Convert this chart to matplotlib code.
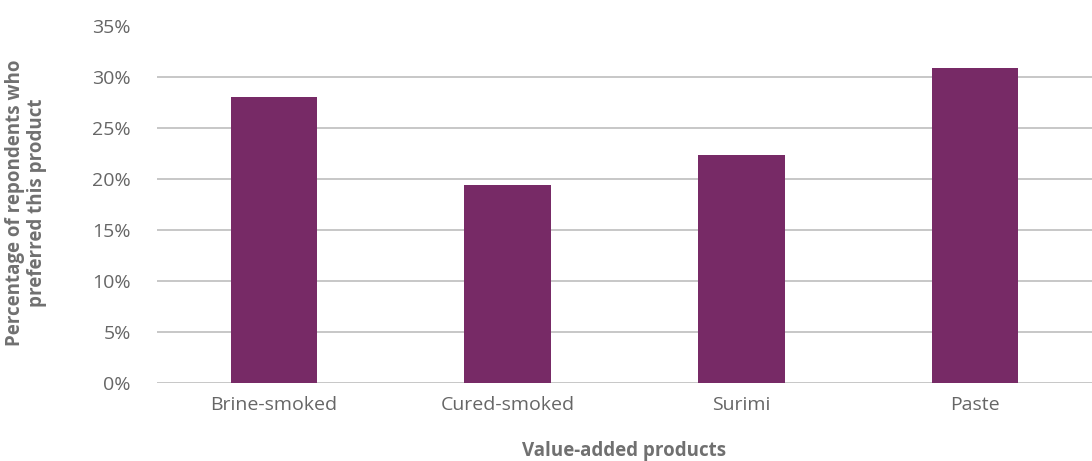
import matplotlib.pyplot as plt
from matplotlib.ticker import PercentFormatter

products = ["Brine-smoked", "Cured-smoked", "Surimi", "Paste"]
shares = [28.0, 19.4, 22.3, 30.9]
yticks = [0, 5, 10, 15, 20, 25, 30, 35]

plt.rcParams['font.family'] = ['Open Sans', 'DejaVu Sans']

fig = plt.figure(figsize=(10.92, 4.61), dpi=100)
ax = fig.add_axes([0.1438, 0.169, 0.8562, 0.775])

ax.bar(range(len(products)), shares, width=0.37, color='#772A66', zorder=3)

ax.set_xlim(-0.5, len(products) - 0.5)
ax.set_ylim(0, 35)
ax.set_yticks(yticks)
ax.yaxis.set_major_formatter(PercentFormatter(decimals=0))
ax.set_xticks(range(len(products)))
ax.set_xticklabels(products)

ax.grid(axis='y', color='#BDBDBD', linewidth=1.2, zorder=0)
ax.get_ygridlines()[-1].set_visible(False)
for s in ax.spines.values():
    s.set_visible(False)
ax.tick_params(axis='both', length=0, labelsize=14, colors='#666666')
ax.tick_params(axis='y', pad=19)
ax.tick_params(axis='x', pad=9)

ax.set_xlabel('Value-added products', fontsize=13.5, fontweight='bold',
              color='#707070', labelpad=20)
fig.text(0.024, 0.56, 'Percentage of repondents who\npreferred this product',
         rotation=90, ha='center', va='center', fontsize=13.5,
         fontweight='bold', color='#707070', linespacing=1.1)

fig.savefig('out.png', dpi=100)
